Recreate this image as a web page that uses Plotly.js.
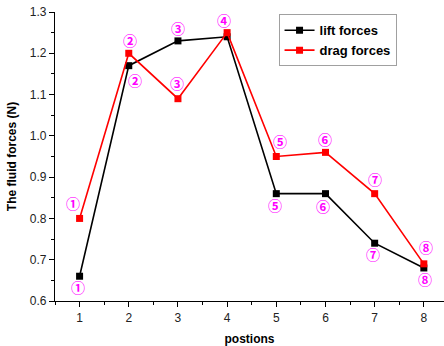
<!DOCTYPE html>
<html>
<head>
<meta charset="utf-8">
<script src="https://cdn.plot.ly/plotly-3.0.1.min.js"></script>
<style>html,body{margin:0;padding:0;background:#fff;}#chart{width:444px;height:346px;}</style>
</head>
<body>
<div id="chart"></div>
<script>
// Data
var positions = [1, 2, 3, 4, 5, 6, 7, 8];
var liftForces = [0.66, 1.17, 1.23, 1.24, 0.86, 0.86, 0.74, 0.68];
var dragForces = [0.80, 1.20, 1.09, 1.25, 0.95, 0.96, 0.86, 0.69];
var pointLabels = ['①', '②', '③', '④', '⑤', '⑥', '⑦', '⑧'];
// Which lift points get their own label (4 shares the drag label)
var liftLabelShown = [true, true, true, false, true, true, true, true];

// label pixel offsets (screen): [dx, dy]
var dragOffsets = [[-7, 15], [1, 13], [-1, 16], [-3, 13], [4, 16], [0, 13], [0, 15], [2, 17]];
var liftOffsets = [[-2, -11], [6, -14], [0, 12.5], [0, 0], [-1.5, -11.5], [-2, -12.5], [-1.5, -11], [1, -11]];

var traces = [
  {
    x: positions, y: liftForces, name: 'lift forces', type: 'scatter', mode: 'lines+markers',
    line: {color: '#000000', width: 1.6},
    marker: {symbol: 'square', size: 7, color: '#000000'}
  },
  {
    x: positions, y: dragForces, name: 'drag forces', type: 'scatter', mode: 'lines+markers',
    line: {color: '#ff0000', width: 1.6},
    marker: {symbol: 'square', size: 7, color: '#ff0000'}
  }
];

var annotations = [];
var labFont = {family: 'Noto Sans CJK SC, DejaVu Sans, sans-serif', size: 14, color: '#ff00ff', weight: 'bold'};
for (var i = 0; i < positions.length; i++) {
  annotations.push({
    x: positions[i], y: dragForces[i], xref: 'x', yref: 'y', text: pointLabels[i],
    showarrow: false, xshift: dragOffsets[i][0], yshift: dragOffsets[i][1], font: labFont
  });
  if (liftLabelShown[i]) {
    annotations.push({
      x: positions[i], y: liftForces[i], xref: 'x', yref: 'y', text: pointLabels[i],
      showarrow: false, xshift: liftOffsets[i][0], yshift: liftOffsets[i][1], font: labFont
    });
  }
}

var layout = {
  width: 444, height: 346,
  margin: {l: 55, r: 0, t: 12, b: 45},
  paper_bgcolor: '#ffffff', plot_bgcolor: '#ffffff',
  showlegend: true,
  legend: {
    x: 0.878, y: 0.992, xanchor: 'right', yanchor: 'top',
    bordercolor: '#a0a0a0', borderwidth: 1, bgcolor: '#ffffff',
    font: {family: 'Liberation Sans, Arial, sans-serif', size: 13, color: '#000000', weight: 'bold'},
    tracegroupgap: 0, itemwidth: 30
  },
  xaxis: {
    range: [0.5, 8.41], tickmode: 'linear', tick0: 1, dtick: 1,
    showgrid: false, zeroline: false, showline: true, linecolor: '#000000', linewidth: 1.2,
    ticks: 'outside', ticklen: 5, tickcolor: '#000000', tickwidth: 1,
    minor: {dtick: 0.5, tick0: 0.5, ticks: 'outside', ticklen: 3, tickcolor: '#000000', showgrid: false},
    tickfont: {family: 'Liberation Sans, Arial, sans-serif', size: 12, color: '#222222'},
    title: {text: 'postions', font: {family: 'Liberation Sans, Arial, sans-serif', size: 12, color: '#000000', weight: 'bold'}, standoff: 14}
  },
  yaxis: {
    range: [0.6, 1.3], tickmode: 'linear', tick0: 0.6, dtick: 0.1, tickformat: '.1f',
    showgrid: false, zeroline: false, showline: true, linecolor: '#000000', linewidth: 1.2,
    ticks: 'outside', ticklen: 5, tickcolor: '#000000', tickwidth: 1,
    minor: {dtick: 0.05, tick0: 0.6, ticks: 'outside', ticklen: 3, tickcolor: '#000000', showgrid: false},
    tickfont: {family: 'Liberation Sans, Arial, sans-serif', size: 12, color: '#222222'},
    title: {text: 'The fluid forces (N)', font: {family: 'Liberation Sans, Arial, sans-serif', size: 12, color: '#000000', weight: 'bold'}, standoff: 10}
  },
  annotations: annotations
};

Plotly.newPlot('chart', traces, layout, {displayModeBar: false, staticPlot: true});
</script>
</body>
</html>
